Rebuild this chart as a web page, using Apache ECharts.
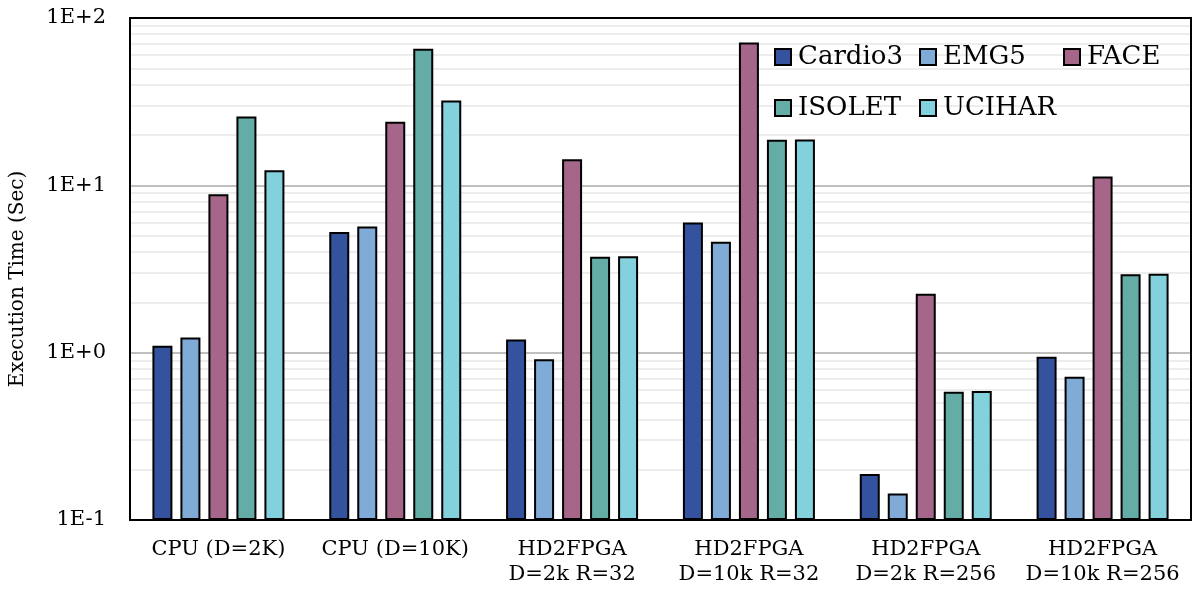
<!DOCTYPE html>
<html>
<head>
<meta charset="utf-8">
<style>
  html, body { margin: 0; padding: 0; background: #ffffff; }
  #chart { width: 1194px; height: 590px; }
</style>
<script src="https://cdn.jsdelivr.net/npm/echarts@6/dist/echarts.min.js"></script>
</head>
<body>
<div id="chart"></div>
<script>
// Execution time per platform configuration and dataset (seconds, log scale)
const categories = [
  'CPU (D=2K)',
  'CPU (D=10K)',
  'HD2FPGA\nD=2k R=32',
  'HD2FPGA\nD=10k R=32',
  'HD2FPGA\nD=2k R=256',
  'HD2FPGA\nD=10k R=256'
];
const seriesNames = ['Cardio3', 'EMG5', 'FACE', 'ISOLET', 'UCIHAR'];
const cardio3 = [1.10, 5.27, 1.20, 5.99, 0.188, 0.946];
const emg5    = [1.23, 5.67, 0.912, 4.60, 0.144, 0.719];
const face    = [8.85, 24.0, 14.3, 71.3, 2.25, 11.3];
const isolet  = [25.8, 65.4, 3.74, 18.7, 0.585, 2.94];
const ucihar  = [12.3, 32.1, 3.77, 18.8, 0.59, 2.96];
const yMin = 0.1;
const yMax = 100;
// minor grid values between decades
const minorSteps = [2, 3, 4, 5, 6, 7, 8, 9];
const decades = [0.1, 1, 10];

const seriesValues = [cardio3, emg5, face, isolet, ucihar];
const colors = ['#34529E', '#80ABD6', '#A56689', '#64ACA6', '#82D1DD'];
const serif = "'DejaVu Serif', 'Liberation Serif', serif";

const minorLines = [];
decades.forEach(d => minorSteps.forEach(s => minorLines.push({ yAxis: +(d * s).toPrecision(3) })));

function expLabel(v) {
  const e = Math.round(Math.log10(v));
  return '1E' + (e < 0 ? '-' : '+') + Math.abs(e);
}

// legend placement: one small legend per entry, laid out on a 3-column grid
const legendPos = [
  { left: 774, top: 42 },
  { left: 919, top: 42 },
  { left: 1063, top: 42 },
  { left: 774, top: 93 },
  { left: 919, top: 93 }
];

const chart = echarts.init(document.getElementById('chart'), null, { renderer: 'canvas' });

const barSeries = seriesNames.map((name, i) => ({
  name: name,
  type: 'bar',
  data: seriesValues[i],
  barWidth: 20,
  barGap: '40%',
  z: 3,
  itemStyle: { color: colors[i], borderColor: '#000000', borderWidth: 2 }
}));

chart.setOption({
  animation: false,
  backgroundColor: '#ffffff',
  grid: {
    left: 124, right: 3, top: 18, bottom: 70,
    show: true, borderColor: '#000000', borderWidth: 2, backgroundColor: 'transparent',
    z: 4
  },
  legend: seriesNames.map((name, i) => ({
    data: [name],
    left: legendPos[i].left,
    top: legendPos[i].top,
    icon: 'rect',
    itemWidth: 16,
    itemHeight: 16,
    itemGap: 0,
    padding: 0,
    selectedMode: false,
    textStyle: { fontFamily: serif, fontSize: 26, color: '#000000', padding: [0, 0, 0, 2], lineHeight: 30 }
  })),
  xAxis: {
    type: 'category',
    data: categories,
    axisLine: { show: true, lineStyle: { color: '#000000', width: 2 } },
    axisTick: { show: false },
    axisLabel: {
      fontFamily: serif, fontSize: 21, color: '#000000',
      margin: 17, lineHeight: 25, interval: 0
    },
    splitLine: { show: false }
  },
  yAxis: {
    type: 'log',
    logBase: 10,
    min: yMin,
    max: yMax,
    startValue: yMin,
    splitNumber: 3,
    name: 'Execution Time (Sec)',
    nameLocation: 'middle',
    nameGap: 102,
    nameRotate: 90,
    nameTextStyle: { fontFamily: serif, fontSize: 20, color: '#000000', padding: [0, 20, 0, 0] },
    axisLine: { show: true, lineStyle: { color: '#000000', width: 2 } },
    axisTick: { show: false },
    axisLabel: {
      fontFamily: serif, fontSize: 21, color: '#000000', margin: 24,
      formatter: expLabel
    },
    splitLine: { show: true, lineStyle: { color: '#bfbfbf', width: 2 } },
    minorTick: { show: false },
    minorSplitLine: { show: false }
  },
  series: [
    {
      name: 'minor grid',
      type: 'line',
      data: [],
      silent: true,
      markLine: {
        silent: true,
        symbol: 'none',
        z: 1,
        label: { show: false },
        lineStyle: { color: '#ededed', width: 2, type: 'solid' },
        emphasis: { disabled: true },
        data: minorLines
      }
    }
  ].concat(barSeries)
});
</script>
</body>
</html>
